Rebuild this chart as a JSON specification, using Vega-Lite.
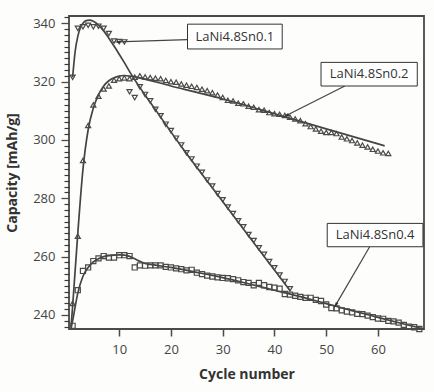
{
  "$schema": "https://vega.github.io/schema/vega-lite/v6.json",
  "width": 355,
  "height": 313,
  "autosize": "none",
  "padding": {"left": 69, "top": 16, "right": 10, "bottom": 63},
  "background": "#fdfdfb",
  "config": {
    "view": {"stroke": "#4a4a4a", "strokeWidth": 1.8, "fill": "#fdfdfb"},
    "font": "Open Sans"
  },
  "resolve": {"axis": {"y": "independent"}},
  "datasets": {
    "fits": [
      {"series": "Sn0.1", "x": 1, "y": 321.5}, {"series": "Sn0.1", "x": 1.5, "y": 330.5}, {"series": "Sn0.1", "x": 2, "y": 335.5}, {"series": "Sn0.1", "x": 2.5, "y": 338.5}, {"series": "Sn0.1", "x": 3, "y": 340}, {"series": "Sn0.1", "x": 3.6, "y": 340.9}, {"series": "Sn0.1", "x": 4.3, "y": 341.1}, {"series": "Sn0.1", "x": 5, "y": 340.7}, {"series": "Sn0.1", "x": 6, "y": 339.4}, {"series": "Sn0.1", "x": 7, "y": 337.4}, {"series": "Sn0.1", "x": 8, "y": 334.9}, {"series": "Sn0.1", "x": 9, "y": 332.2}, {"series": "Sn0.1", "x": 10, "y": 329.4}, {"series": "Sn0.1", "x": 11, "y": 326.5}, {"series": "Sn0.1", "x": 12.4, "y": 322.3}, {"series": "Sn0.1", "x": 17, "y": 310.4}, {"series": "Sn0.1", "x": 22.4, "y": 296.8}, {"series": "Sn0.1", "x": 30, "y": 278.9}, {"series": "Sn0.1", "x": 36, "y": 264.8}, {"series": "Sn0.1", "x": 43, "y": 248.4},
      {"series": "Sn0.2", "x": 0.7, "y": 236}, {"series": "Sn0.2", "x": 1, "y": 243}, {"series": "Sn0.2", "x": 2, "y": 268}, {"series": "Sn0.2", "x": 3, "y": 290}, {"series": "Sn0.2", "x": 4, "y": 303.5}, {"series": "Sn0.2", "x": 5, "y": 311}, {"series": "Sn0.2", "x": 6, "y": 315.5}, {"series": "Sn0.2", "x": 7, "y": 318.5}, {"series": "Sn0.2", "x": 8, "y": 320.3}, {"series": "Sn0.2", "x": 9, "y": 321.3}, {"series": "Sn0.2", "x": 10, "y": 321.9}, {"series": "Sn0.2", "x": 11, "y": 322.1}, {"series": "Sn0.2", "x": 12.4, "y": 321.8}, {"series": "Sn0.2", "x": 20, "y": 318.5}, {"series": "Sn0.2", "x": 29.5, "y": 314.3}, {"series": "Sn0.2", "x": 40, "y": 309}, {"series": "Sn0.2", "x": 50, "y": 303.8}, {"series": "Sn0.2", "x": 61.3, "y": 298},
      {"series": "Sn0.4", "x": 0.7, "y": 235.4}, {"series": "Sn0.4", "x": 1, "y": 238}, {"series": "Sn0.4", "x": 2, "y": 247.5}, {"series": "Sn0.4", "x": 3, "y": 253.3}, {"series": "Sn0.4", "x": 4, "y": 256.3}, {"series": "Sn0.4", "x": 5, "y": 258.2}, {"series": "Sn0.4", "x": 6, "y": 259.3}, {"series": "Sn0.4", "x": 7, "y": 260}, {"series": "Sn0.4", "x": 8, "y": 260.3}, {"series": "Sn0.4", "x": 9, "y": 260.5}, {"series": "Sn0.4", "x": 10, "y": 260.6}, {"series": "Sn0.4", "x": 11, "y": 260.5}, {"series": "Sn0.4", "x": 12, "y": 260.1}, {"series": "Sn0.4", "x": 13, "y": 259.3}, {"series": "Sn0.4", "x": 14, "y": 258.4}, {"series": "Sn0.4", "x": 15, "y": 257.7}, {"series": "Sn0.4", "x": 17, "y": 257.1}, {"series": "Sn0.4", "x": 20, "y": 256.3}, {"series": "Sn0.4", "x": 25, "y": 254.6}, {"series": "Sn0.4", "x": 30, "y": 252.8}, {"series": "Sn0.4", "x": 35, "y": 250.7}, {"series": "Sn0.4", "x": 40, "y": 248.5}, {"series": "Sn0.4", "x": 45, "y": 246.3}, {"series": "Sn0.4", "x": 50, "y": 243.9}, {"series": "Sn0.4", "x": 55, "y": 241.5}, {"series": "Sn0.4", "x": 60, "y": 239.2}, {"series": "Sn0.4", "x": 65, "y": 236.9}, {"series": "Sn0.4", "x": 68.9, "y": 235.2}
    ],
    "points": [
      {"series": "Sn0.1", "x": 1, "y": 321.5}, {"series": "Sn0.1", "x": 2, "y": 338.3}, {"series": "Sn0.1", "x": 3, "y": 338.8}, {"series": "Sn0.1", "x": 4, "y": 339.3}, {"series": "Sn0.1", "x": 5, "y": 338.8}, {"series": "Sn0.1", "x": 6, "y": 339.0}, {"series": "Sn0.1", "x": 7, "y": 338.3}, {"series": "Sn0.1", "x": 8, "y": 336.5}, {"series": "Sn0.1", "x": 9, "y": 333.9}, {"series": "Sn0.1", "x": 10, "y": 333.7}, {"series": "Sn0.1", "x": 11, "y": 333.6}, {"series": "Sn0.1", "x": 12, "y": 316.5}, {"series": "Sn0.1", "x": 13, "y": 314.5},
      {"series": "Sn0.1", "x": 14, "y": 318.2}, {"series": "Sn0.1", "x": 15, "y": 315.6}, {"series": "Sn0.1", "x": 16, "y": 313.4}, {"series": "Sn0.1", "x": 17, "y": 310.5}, {"series": "Sn0.1", "x": 18, "y": 308.3}, {"series": "Sn0.1", "x": 19, "y": 305.4}, {"series": "Sn0.1", "x": 20, "y": 303.2}, {"series": "Sn0.1", "x": 21, "y": 300.6}, {"series": "Sn0.1", "x": 22, "y": 298.3}, {"series": "Sn0.1", "x": 23, "y": 295.6}, {"series": "Sn0.1", "x": 24, "y": 293.5}, {"series": "Sn0.1", "x": 25, "y": 291.0}, {"series": "Sn0.1", "x": 26, "y": 288.9}, {"series": "Sn0.1", "x": 27, "y": 286.3}, {"series": "Sn0.1", "x": 28, "y": 284.2}, {"series": "Sn0.1", "x": 29, "y": 281.6}, {"series": "Sn0.1", "x": 30, "y": 279.5}, {"series": "Sn0.1", "x": 31, "y": 277.0}, {"series": "Sn0.1", "x": 32, "y": 274.8}, {"series": "Sn0.1", "x": 33, "y": 272.3}, {"series": "Sn0.1", "x": 34, "y": 270.2}, {"series": "Sn0.1", "x": 35, "y": 267.6}, {"series": "Sn0.1", "x": 36, "y": 265.5}, {"series": "Sn0.1", "x": 37, "y": 263.0}, {"series": "Sn0.1", "x": 38, "y": 260.8}, {"series": "Sn0.1", "x": 39, "y": 258.3}, {"series": "Sn0.1", "x": 40, "y": 256.2}, {"series": "Sn0.1", "x": 41, "y": 253.7}, {"series": "Sn0.1", "x": 42, "y": 251.5}, {"series": "Sn0.1", "x": 43, "y": 249.0},
      {"series": "Sn0.2", "x": 1, "y": 244}, {"series": "Sn0.2", "x": 2, "y": 267}, {"series": "Sn0.2", "x": 3, "y": 293}, {"series": "Sn0.2", "x": 4, "y": 305}, {"series": "Sn0.2", "x": 5, "y": 312}, {"series": "Sn0.2", "x": 6, "y": 315}, {"series": "Sn0.2", "x": 7, "y": 317.5}, {"series": "Sn0.2", "x": 8, "y": 318.5}, {"series": "Sn0.2", "x": 9, "y": 320.5}, {"series": "Sn0.2", "x": 10, "y": 321}, {"series": "Sn0.2", "x": 11, "y": 321.3}, {"series": "Sn0.2", "x": 12, "y": 321}, {"series": "Sn0.2", "x": 13, "y": 321.5},
      {"series": "Sn0.2", "x": 14, "y": 322.0}, {"series": "Sn0.2", "x": 15, "y": 321.6}, {"series": "Sn0.2", "x": 16, "y": 321.4}, {"series": "Sn0.2", "x": 17, "y": 321.2}, {"series": "Sn0.2", "x": 18, "y": 321.0}, {"series": "Sn0.2", "x": 19, "y": 320.4}, {"series": "Sn0.2", "x": 20, "y": 320.0}, {"series": "Sn0.2", "x": 21, "y": 319.8}, {"series": "Sn0.2", "x": 22, "y": 319.2}, {"series": "Sn0.2", "x": 23, "y": 318.8}, {"series": "Sn0.2", "x": 24, "y": 318.4}, {"series": "Sn0.2", "x": 25, "y": 318.0}, {"series": "Sn0.2", "x": 26, "y": 317.4}, {"series": "Sn0.2", "x": 27, "y": 316.9}, {"series": "Sn0.2", "x": 28, "y": 316.2}, {"series": "Sn0.2", "x": 29, "y": 315.4}, {"series": "Sn0.2", "x": 30, "y": 314.6}, {"series": "Sn0.2", "x": 31, "y": 313.6}, {"series": "Sn0.2", "x": 32, "y": 313.4}, {"series": "Sn0.2", "x": 33, "y": 312.6}, {"series": "Sn0.2", "x": 34, "y": 312.4}, {"series": "Sn0.2", "x": 35, "y": 311.6}, {"series": "Sn0.2", "x": 36, "y": 311.2}, {"series": "Sn0.2", "x": 37, "y": 310.4}, {"series": "Sn0.2", "x": 38, "y": 310.2}, {"series": "Sn0.2", "x": 39, "y": 309.4}, {"series": "Sn0.2", "x": 40, "y": 309.0}, {"series": "Sn0.2", "x": 41, "y": 308.8}, {"series": "Sn0.2", "x": 42, "y": 308.4}, {"series": "Sn0.2", "x": 43, "y": 307.8}, {"series": "Sn0.2", "x": 44, "y": 307.2}, {"series": "Sn0.2", "x": 45, "y": 306.6}, {"series": "Sn0.2", "x": 46, "y": 305.6}, {"series": "Sn0.2", "x": 47, "y": 304.6}, {"series": "Sn0.2", "x": 48, "y": 303.8}, {"series": "Sn0.2", "x": 49, "y": 303.0}, {"series": "Sn0.2", "x": 50, "y": 302.6}, {"series": "Sn0.2", "x": 51, "y": 302.6}, {"series": "Sn0.2", "x": 52, "y": 302.2}, {"series": "Sn0.2", "x": 53, "y": 301.0}, {"series": "Sn0.2", "x": 54, "y": 300.4}, {"series": "Sn0.2", "x": 55, "y": 299.8}, {"series": "Sn0.2", "x": 56, "y": 299.0}, {"series": "Sn0.2", "x": 57, "y": 298.2}, {"series": "Sn0.2", "x": 58, "y": 297.6}, {"series": "Sn0.2", "x": 59, "y": 296.8}, {"series": "Sn0.2", "x": 60, "y": 296.2}, {"series": "Sn0.2", "x": 61, "y": 295.6}, {"series": "Sn0.2", "x": 62, "y": 295.4},
      {"series": "Sn0.4", "x": 1, "y": 236.3}, {"series": "Sn0.4", "x": 2, "y": 248.5}, {"series": "Sn0.4", "x": 3, "y": 255.1}, {"series": "Sn0.4", "x": 4, "y": 256.3}, {"series": "Sn0.4", "x": 5, "y": 258.5}, {"series": "Sn0.4", "x": 6, "y": 259.4}, {"series": "Sn0.4", "x": 7, "y": 260.2}, {"series": "Sn0.4", "x": 8, "y": 259.7}, {"series": "Sn0.4", "x": 9, "y": 259.7}, {"series": "Sn0.4", "x": 10, "y": 260.5}, {"series": "Sn0.4", "x": 11, "y": 260.5}, {"series": "Sn0.4", "x": 12, "y": 260.2}, {"series": "Sn0.4", "x": 13, "y": 256.3}, {"series": "Sn0.4", "x": 14, "y": 257.0}, {"series": "Sn0.4", "x": 15, "y": 256.9}, {"series": "Sn0.4", "x": 16, "y": 257.0}, {"series": "Sn0.4", "x": 17, "y": 257.0}, {"series": "Sn0.4", "x": 18, "y": 257.0}, {"series": "Sn0.4", "x": 19, "y": 256.5}, {"series": "Sn0.4", "x": 20, "y": 256.3}, {"series": "Sn0.4", "x": 21, "y": 256.0}, {"series": "Sn0.4", "x": 22, "y": 255.7}, {"series": "Sn0.4", "x": 23, "y": 255.3}, {"series": "Sn0.4", "x": 24, "y": 255.5}, {"series": "Sn0.4", "x": 25, "y": 254.5}, {"series": "Sn0.4", "x": 26, "y": 254.0}, {"series": "Sn0.4", "x": 27, "y": 253.5}, {"series": "Sn0.4", "x": 28, "y": 253.2}, {"series": "Sn0.4", "x": 29, "y": 252.9}, {"series": "Sn0.4", "x": 30, "y": 252.7}, {"series": "Sn0.4", "x": 31, "y": 252.6}, {"series": "Sn0.4", "x": 32, "y": 252.3}, {"series": "Sn0.4", "x": 33, "y": 251.9}, {"series": "Sn0.4", "x": 34, "y": 251.3}, {"series": "Sn0.4", "x": 35, "y": 251.0}, {"series": "Sn0.4", "x": 36, "y": 250.2}, {"series": "Sn0.4", "x": 37, "y": 251.0}, {"series": "Sn0.4", "x": 38, "y": 250.2}, {"series": "Sn0.4", "x": 39, "y": 249.6}, {"series": "Sn0.4", "x": 40, "y": 249.4}, {"series": "Sn0.4", "x": 41, "y": 249.0}, {"series": "Sn0.4", "x": 42, "y": 247.2}, {"series": "Sn0.4", "x": 43, "y": 247.0}, {"series": "Sn0.4", "x": 44, "y": 246.6}, {"series": "Sn0.4", "x": 45, "y": 246.2}, {"series": "Sn0.4", "x": 46, "y": 245.9}, {"series": "Sn0.4", "x": 47, "y": 245.9}, {"series": "Sn0.4", "x": 48, "y": 245.2}, {"series": "Sn0.4", "x": 49, "y": 244.8}, {"series": "Sn0.4", "x": 50, "y": 243.6}, {"series": "Sn0.4", "x": 51, "y": 242.4}, {"series": "Sn0.4", "x": 52, "y": 242.3}, {"series": "Sn0.4", "x": 53, "y": 241.6}, {"series": "Sn0.4", "x": 54, "y": 241.2}, {"series": "Sn0.4", "x": 55, "y": 240.9}, {"series": "Sn0.4", "x": 56, "y": 240.4}, {"series": "Sn0.4", "x": 57, "y": 240.3}, {"series": "Sn0.4", "x": 58, "y": 239.8}, {"series": "Sn0.4", "x": 59, "y": 239.3}, {"series": "Sn0.4", "x": 60, "y": 238.8}, {"series": "Sn0.4", "x": 61, "y": 238.7}, {"series": "Sn0.4", "x": 62, "y": 238.0}, {"series": "Sn0.4", "x": 63, "y": 237.8}, {"series": "Sn0.4", "x": 64, "y": 237.4}, {"series": "Sn0.4", "x": 65, "y": 236.6}, {"series": "Sn0.4", "x": 66, "y": 236.0}, {"series": "Sn0.4", "x": 67, "y": 235.8}, {"series": "Sn0.4", "x": 68, "y": 235.2}
    ],
    "notes": [
      {"label": "LaNi4.8Sn0.1", "bx1": 23.2, "bx2": 41.5, "by1": 339.7, "by2": 331.2, "tx": 32.35, "ty": 335.45, "ax1": 23.2, "ay1": 334.4, "ax2": 9.6, "ay2": 333.6},
      {"label": "LaNi4.8Sn0.2", "bx1": 49.0, "bx2": 67.6, "by1": 326.6, "by2": 318.5, "tx": 58.3, "ty": 322.55, "ax1": 53.6, "ay1": 318.5, "ax2": 42.2, "ay2": 308.3},
      {"label": "LaNi4.8Sn0.4", "bx1": 50.2, "bx2": 68.7, "by1": 271.4, "by2": 263.4, "tx": 59.45, "ty": 267.4, "ax1": 58.4, "ay1": 263.4, "ax2": 51.8, "ay2": 243.3}
    ]
  },
  "layer": [
    {
      "data": {"name": "fits"},
      "mark": {"type": "line", "stroke": "#444", "strokeWidth": 1.7, "interpolate": "monotone"},
      "encoding": {
        "x": {"field": "x", "type": "quantitative", "scale": {"domain": [0.3, 68.9], "nice": false, "zero": false},
          "axis": {"values": [10, 20, 30, 40, 50, 60], "domain": false, "grid": false, "tickSize": 7, "tickWidth": 1.5, "tickColor": "#4a4a4a", "labelFontSize": 13, "labelColor": "#444", "labelPadding": 7, "title": "Cycle number", "titleFontSize": 14, "titleFontWeight": "bold", "titleColor": "#333", "titlePadding": 11}},
        "y": {"field": "y", "type": "quantitative", "scale": {"domain": [235.2, 342.5], "nice": false, "zero": false},
          "axis": {"orient": "left", "values": [240, 260, 280, 300, 320, 340], "labelOverlap": false, "labelBound": false, "labelFlush": false, "domain": false, "grid": false,
            "tickSize": 8, "tickWidth": 1.3, "tickColor": "#4a4a4a", "labelFontSize": 13, "labelColor": "#444", "labelPadding": 6,
            "title": "Capacity [mAh/g]", "titleFontSize": 14, "titleFontWeight": "bold", "titleColor": "#333", "titlePadding": 13}},
        "detail": {"field": "series"}
      }
    },
    {
      "data": {"name": "points"},
      "mark": {"type": "point", "filled": false, "stroke": "#4a4a4a", "strokeWidth": 1.2, "size": 26, "opacity": 1},
      "encoding": {
        "x": {"field": "x", "type": "quantitative"},
        "y": {"field": "y", "type": "quantitative",
          "axis": {"orient": "left", "values": [236, 238, 242, 244, 246, 248, 250, 252, 254, 256, 258, 262, 264, 266, 268, 270, 272, 274, 276, 278, 282, 284, 286, 288, 290, 292, 294, 296, 298, 302, 304, 306, 308, 310, 312, 314, 316, 318, 322, 324, 326, 328, 330, 332, 334, 336, 338, 342],
            "labels": false, "title": null, "domain": false, "grid": false, "tickSize": 5, "tickWidth": 1.2, "tickColor": "#3a3a3a", "offset": 0}},
        "shape": {"field": "series", "type": "nominal", "scale": {"domain": ["Sn0.1", "Sn0.2", "Sn0.4"], "range": ["triangle-down", "triangle-up", "square"]}, "legend": null}
      }
    },
    {
      "data": {"name": "notes"},
      "mark": {"type": "rule", "stroke": "#444", "strokeWidth": 1.2},
      "encoding": {
        "x": {"field": "ax1", "type": "quantitative"},
        "y": {"field": "ay1", "type": "quantitative", "axis": null},
        "x2": {"field": "ax2"},
        "y2": {"field": "ay2"}
      }
    },
    {
      "data": {"name": "notes"},
      "transform": [{"filter": "datum.label === 'LaNi4.8Sn0.1'"}],
      "mark": {"type": "point", "shape": "M0,-1L0.45,1L-0.45,1Z", "filled": true, "color": "#333", "size": 40, "angle": 268, "opacity": 1},
      "encoding": {"x": {"field": "ax2", "type": "quantitative"}, "y": {"field": "ay2", "type": "quantitative", "axis": null}}
    },
    {
      "data": {"name": "notes"},
      "transform": [{"filter": "datum.label === 'LaNi4.8Sn0.2'"}],
      "mark": {"type": "point", "shape": "M0,-1L0.45,1L-0.45,1Z", "filled": true, "color": "#333", "size": 40, "angle": 244, "opacity": 1},
      "encoding": {"x": {"field": "ax2", "type": "quantitative"}, "y": {"field": "ay2", "type": "quantitative", "axis": null}}
    },
    {
      "data": {"name": "notes"},
      "transform": [{"filter": "datum.label === 'LaNi4.8Sn0.4'"}],
      "mark": {"type": "point", "shape": "M0,-1L0.45,1L-0.45,1Z", "filled": true, "color": "#333", "size": 40, "angle": 211, "opacity": 1},
      "encoding": {"x": {"field": "ax2", "type": "quantitative"}, "y": {"field": "ay2", "type": "quantitative", "axis": null}}
    },
    {
      "data": {"name": "notes"},
      "mark": {"type": "rect", "fill": "#ffffff", "stroke": "#333", "strokeWidth": 1},
      "encoding": {
        "x": {"field": "bx1", "type": "quantitative"},
        "x2": {"field": "bx2"},
        "y": {"field": "by1", "type": "quantitative", "axis": null},
        "y2": {"field": "by2"}
      }
    },
    {
      "data": {"name": "notes"},
      "mark": {"type": "text", "fontSize": 13, "color": "#333", "align": "center", "baseline": "middle"},
      "encoding": {
        "x": {"field": "tx", "type": "quantitative"},
        "y": {"field": "ty", "type": "quantitative", "axis": null},
        "text": {"field": "label"}
      }
    }
  ]
}
